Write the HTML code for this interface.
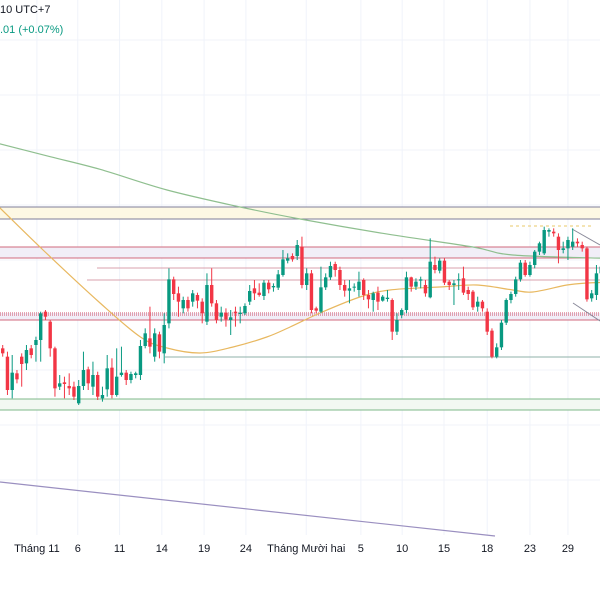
<!DOCTYPE html>
<html><head><meta charset="utf-8">
<style>
html,body{margin:0;padding:0;background:#fff;}
#wrap{position:relative;width:600px;height:600px;overflow:hidden;font-family:"Liberation Sans",sans-serif;}
svg{position:absolute;left:0;top:0;}
.hdr{position:absolute;left:0;font-size:11px;}
</style></head>
<body>
<div id="wrap">
<svg id="chart" width="600" height="600"></svg>
<div class="hdr" style="top:4px;color:#131722">10 UTC+7</div>
<div class="hdr" style="top:24px;color:#089981">.01 (+0.07%)</div>
</div>
<script>
// candle data: [open, close, high, low]
const opens  = [225,200,100,150,200,180,225,235,250,335,305,225,110,123,112,110,60,112,162,110,145,75,102,167,85,145,152,130,145,145,232,255,200,267,210,300,432,390,345,370,365,385,365,305,415,360,320,332,310,335,328,330,365,405,392,382,422,408,407,445,488,502,502,530,415,450,345,335,408,438,478,460,415,398,408,400,430,385,370,392,368,373,370,275,325,340,438,410,428,415,378,475,458,488,425,415,430,435,400,395,350,365,335,278,200,228,302,370,388,432,482,445,475,515,510,575,575,560,520,525,530,545,535,525,375,385,450];
const closes = [210,100,152,132,178,220,205,250,330,320,225,105,120,118,105,80,112,160,120,145,80,85,165,85,140,152,130,148,150,232,270,230,270,215,295,432,388,365,370,345,390,368,330,415,360,310,332,312,318,330,332,352,397,390,385,422,402,412,447,492,495,492,535,415,450,340,338,408,438,472,460,415,398,405,410,425,385,372,390,365,380,377,275,310,340,438,410,425,432,390,485,460,488,422,415,420,432,392,388,348,365,345,275,200,228,302,370,388,432,482,445,475,515,540,580,580,570,520,525,550,545,540,525,372,390,450,470];
const highs  = [235,215,205,160,210,235,235,260,335,340,310,230,145,140,150,125,130,215,170,185,155,110,205,195,225,230,160,155,155,250,285,350,285,275,330,465,440,410,380,380,400,392,375,450,465,370,350,345,340,350,350,360,415,430,420,430,430,420,460,520,510,510,550,560,465,460,350,470,450,485,485,470,430,430,420,455,435,400,395,410,385,400,375,330,345,455,440,435,440,430,555,500,495,495,430,430,450,470,410,400,380,370,345,285,240,310,375,395,440,490,490,485,520,545,590,585,585,570,545,560,585,555,545,530,400,475,480];
const lows   = [200,85,75,120,110,160,195,185,185,310,200,80,100,75,85,70,55,100,100,85,70,65,80,75,80,140,115,120,135,130,225,210,185,195,180,285,370,320,330,335,350,345,300,295,350,300,305,290,265,290,300,325,355,370,380,370,390,395,400,440,480,485,490,405,400,330,330,330,400,430,440,400,380,360,395,380,370,345,335,340,365,365,250,265,315,330,395,400,405,380,375,450,450,415,400,355,400,385,370,340,335,335,265,195,195,220,295,360,380,425,440,440,465,505,505,560,560,480,510,490,520,530,515,365,365,370,440];
// moving averages sampled at candle indices
const ma50Idx  = [-1,8.5,20.5,29,34.6,41.6,48.5,55.6,60.5,66.8,75.2,81.5,92,99.8,107.4,111.6,118.8,123,127];
const ma50Val  = [652,520,361,259,226,211,229,259,289,331,379,400,409,415,400,394,415,421,423];
const ma200Idx = [-1,10,20.5,34.6,50,62.6,80,99,107.4,127];
const ma200Val = [840,800,762,700,649,613,570,529,505,495];
const xLabels = ["Tháng 11","6","11","14","19","24","Tháng Mười hai","5","10","15","18","23","29"];
const xLabelIdx = [7.2,15.8,24.6,33.5,42.4,51.2,63.9,75.4,84.1,92.9,102,111,119];

const NS='http://www.w3.org/2000/svg';
const svg=document.getElementById('chart');
const X=i=>2.7+i*4.75;
const Y=v=>190+(700-v)/3;
function mk(tag,attrs,parent){const e=document.createElementNS(NS,tag);for(const k in attrs)e.setAttribute(k,attrs[k]);(parent||svg).appendChild(e);return e;}
function smoothPath(idx,val){
  const p=idx.map((i,k)=>[X(i),Y(val[k])]);
  let d='M'+p[0][0]+','+p[0][1];
  for(let k=0;k<p.length-1;k++){
    const p0=p[k-1]||p[k],p1=p[k],p2=p[k+1],p3=p[k+2]||p2;
    const c1=[p1[0]+(p2[0]-p0[0])/6,p1[1]+(p2[1]-p0[1])/6];
    const c2=[p2[0]-(p3[0]-p1[0])/6,p2[1]-(p3[1]-p1[1])/6];
    d+=' C'+c1[0]+','+c1[1]+' '+c2[0]+','+c2[1]+' '+p2[0]+','+p2[1];
  }
  return d;
}

// grid
const grid=mk('g',{});


xLabelIdx.forEach(i=>{mk('line',{x1:X(i),x2:X(i),y1:0,y2:535,stroke:'#f0f3fa','stroke-width':1},grid);});
[40,95,150,205,260,315,370,425,480].forEach(y=>{mk('line',{x1:0,x2:600,y1:y,y2:y,stroke:'#f0f3fa','stroke-width':1},grid);});

// zones and levels
const lv=mk('g',{});


mk('rect',{x:0,y:207,width:600,height:12,fill:'#fdf8e4'},lv);
mk('line',{x1:0,x2:600,y1:207,y2:207,stroke:'#7e7e9a','stroke-width':1},lv);
mk('line',{x1:0,x2:600,y1:219,y2:219,stroke:'#7e7e9a','stroke-width':1},lv);
mk('rect',{x:0,y:247,width:600,height:11,fill:'#f1eef7'},lv);
mk('line',{x1:0,x2:600,y1:247,y2:247,stroke:'#d06a7e','stroke-width':1},lv);
mk('line',{x1:0,x2:600,y1:258,y2:258,stroke:'#d06a7e','stroke-width':1},lv);
mk('line',{x1:97,x2:600,y1:268,y2:268,stroke:'#d9a0ac','stroke-width':1},lv);
mk('line',{x1:87,x2:600,y1:280,y2:280,stroke:'#d9a0ac','stroke-width':1},lv);
mk('rect',{x:0,y:313,width:600,height:7,fill:'#f1eef7'},lv);
mk('line',{x1:0,x2:600,y1:313,y2:313,stroke:'#d0506a','stroke-width':1,'stroke-dasharray':'1,1'},lv);
mk('line',{x1:0,x2:600,y1:315,y2:315,stroke:'#d0506a','stroke-width':1,'stroke-dasharray':'1,1'},lv);
mk('line',{x1:0,x2:600,y1:320,y2:320,stroke:'#d06a7e','stroke-width':1},lv);
mk('line',{x1:165,x2:600,y1:357,y2:357,stroke:'#8fb1a8','stroke-width':1},lv);
mk('rect',{x:0,y:399,width:600,height:11,fill:'#f2f8f2'},lv);
mk('line',{x1:0,x2:600,y1:399,y2:399,stroke:'#7fb88a','stroke-width':1},lv);
mk('line',{x1:0,x2:600,y1:410,y2:410,stroke:'#7fb88a','stroke-width':1},lv);
mk('line',{x1:510,x2:592,y1:226,y2:226,stroke:'#e8c96a','stroke-width':1,'stroke-dasharray':'3,3'},lv);
mk('line',{x1:0,x2:495,y1:482,y2:536,stroke:'#9a8fc0','stroke-width':1.2},lv);
mk('line',{x1:572,x2:600,y1:229,y2:245,stroke:'#8a8a9a','stroke-width':1},lv);
mk('line',{x1:573,x2:600,y1:303,y2:321,stroke:'#8a8a9a','stroke-width':1},lv);

// MAs
const m200=mk('path',{d:smoothPath(ma200Idx,ma200Val),fill:'none',stroke:'#8fbf8f','stroke-width':1.2});


const m50=mk('path',{d:smoothPath(ma50Idx,ma50Val),fill:'none',stroke:'#e8b860','stroke-width':1.2});



// candles
const cg=mk('g',{});


opens.forEach((o,i)=>{
  const c=closes[i],up=c>=o,col=up?'#089981':'#f23645',x=X(i);
  const g=mk('g',{},cg);
  
  
  mk('line',{x1:x,x2:x,y1:Y(highs[i]),y2:Y(lows[i]),stroke:col,'stroke-width':1},g);
  const t=Y(Math.max(o,c)),b=Y(Math.min(o,c));
  mk('rect',{x:x-1.7,y:t,width:3.4,height:Math.max(1,b-t),fill:col},g);
});

// x labels
const xl=mk('g',{});


xLabels.forEach((s,k)=>{
  const t=mk('text',{x:X(xLabelIdx[k]),y:552,'text-anchor':'middle','font-size':'11','fill':'#131722','font-family':'Liberation Sans, sans-serif'},xl);
  
  
  t.textContent=s;
});
</script>
</body></html>
